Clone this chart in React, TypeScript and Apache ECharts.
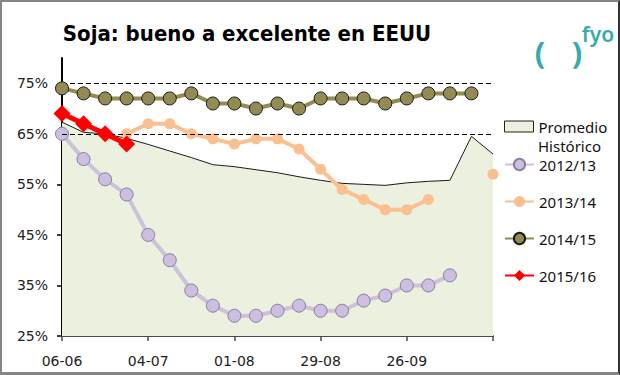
import React, { useEffect, useRef } from 'react';
import * as echarts from 'echarts';

const categories = ['06-06','13-06','20-06','27-06','04-07','11-07','18-07','25-07','01-08','08-08','15-08','22-08','29-08','05-09','12-09','19-09','26-09','03-10','10-10','17-10','24-10'];
const tickLabels = ['06-06','04-07','01-08','29-08','26-09'];
const yTicks = [25, 35, 45, 55, 65, 75];
const refLines = [65, 75];

const promedio = [67.3, 65.3, 65.0, 64.1, 62.9, 61.6, 60.3, 58.9, 58.5, 57.9, 57.3, 56.5, 55.8, 55.2, 55.0, 54.8, 55.3, 55.6, 55.8, 64.5, 61.0];
const s2012 = [65, 60, 56, 53, 45, 40, 34, 31, 29, 29, 30, 31, 30, 30, 32, 33, 35, 35, 37, null, null];
const s2013 = [null, null, null, 65, 67, 67, 65, 64, 63, 64, 64, 62, 58, 54, 52, 50, 50, 52, null, null, 57];
const s2014 = [74, 73, 72, 72, 72, 72, 73, 71, 71, 70, 71, 70, 72, 72, 72, 71, 72, 73, 73, 73, null];
const s2015 = [69, 67, 65, 63, null, null, null, null, null, null, null, null, null, null, null, null, null, null, null, null, null];

const AXIS_FONT = '"DejaVu Sans", Verdana, sans-serif';
const LEGEND_FONT = '"Noto Sans", "Open Sans", sans-serif';
const TEAL = '#38A9AE';

export default function App() {
  const ref = useRef<HTMLDivElement>(null);
  useEffect(() => {
    const chart = echarts.init(ref.current!, null, { renderer: 'svg' });
    chart.setOption({
      animation: false,
      backgroundColor: '#ffffff',
      grid: { left: 62, right: 127, top: 58, bottom: 39, containLabel: false },
      xAxis: {
        type: 'category',
        data: categories,
        boundaryGap: false,
        axisLine: { show: true, lineStyle: { color: '#4a4a4a', width: 2 } },
        axisTick: { show: true, interval: 3, length: 5, lineStyle: { color: '#4a4a4a', width: 1.5 } },
        axisLabel: {
          interval: (i: number, v: string) => tickLabels.includes(v),
          margin: 18,
          fontFamily: AXIS_FONT,
          fontSize: 14,
          color: '#222',
        },
        splitLine: { show: false },
      },
      yAxis: {
        type: 'value',
        min: 25,
        max: 80,
        interval: 10,
        axisLine: { show: true, lineStyle: { color: '#000', width: 2 } },
        axisTick: { show: true, length: 5, customValues: yTicks, lineStyle: { color: '#000', width: 1.5 } },
        axisLabel: {
          customValues: yTicks,
          formatter: '{value}%',
          margin: 14,
          fontFamily: AXIS_FONT,
          fontSize: 14,
          color: '#222',
        },
        splitLine: { show: false },
      },
      legend: [
        {
          orient: 'vertical',
          left: 499,
          top: 114,
          itemWidth: 29,
          itemHeight: 11,
          itemGap: 0,
          selectedMode: false,
          formatter: () => 'Promedio',
          textStyle: { fontFamily: LEGEND_FONT, fontSize: 15, color: '#111', lineHeight: 15 },
          data: [
            {
              name: 'Promedio Histórico',
              icon: 'rect',
              itemStyle: { color: '#EBF0DF', borderColor: '#222', borderWidth: 1 },
            },
          ],
        },
        {
          orient: 'vertical',
          left: 499,
          top: 152,
          itemWidth: 29,
          itemHeight: 14,
          itemGap: 22,
          selectedMode: false,
          textStyle: { fontFamily: LEGEND_FONT, fontSize: 15, color: '#111', lineHeight: 15 },
          data: ['2012/13', '2013/14', '2014/15', '2015/16'],
        },
      ],
      graphic: [
        {
          type: 'text',
          style: {
            text: 'Soja: bueno a excelente en EEUU',
            x: 247,
            y: 33,
            textAlign: 'center',
            textVerticalAlign: 'middle',
            fontFamily: '"DejaVu Sans Condensed", "DejaVu Sans", Verdana, sans-serif',
            fontWeight: 'bold',
            fontSize: 22,
            fill: '#000',
          },
        },
        {
          type: 'text',
          style: {
            text: 'Histórico',
            x: 538,
            y: 146,
            textVerticalAlign: 'middle',
            fontFamily: LEGEND_FONT,
            fontSize: 15,
            lineHeight: 14,
            fill: '#111',
          },
        },
        {
          type: 'text',
          style: { text: '(', x: 540, y: 52, textAlign: 'center', textVerticalAlign: 'middle', fontFamily: LEGEND_FONT, fontWeight: 'bold', fontSize: 31, fill: TEAL },
        },
        {
          type: 'text',
          style: { text: ')', x: 577, y: 52, textAlign: 'center', textVerticalAlign: 'middle', fontFamily: LEGEND_FONT, fontWeight: 'bold', fontSize: 31, fill: TEAL },
        },
        {
          type: 'text',
          style: { text: 'fyo', x: 598, y: 34, textAlign: 'center', textVerticalAlign: 'middle', fontFamily: LEGEND_FONT, fontWeight: 600, fontSize: 21, fill: TEAL },
        },
      ],
      series: [
        {
          name: 'Promedio Histórico',
          type: 'line',
          data: promedio,
          symbol: 'none',
          lineStyle: { color: '#1a1a1a', width: 1 },
          itemStyle: { color: '#EBF0DF' },
          areaStyle: { color: '#EBF0DF', opacity: 1 },
          z: 1,
          markLine: {
            silent: true,
            symbol: 'none',
            label: { show: false },
            lineStyle: { color: '#000', type: [5, 3], width: 1.2 },
            data: refLines.map((v) => ({ yAxis: v })),
          },
        },
        {
          name: '2012/13',
          type: 'line',
          data: s2012,
          symbol: 'circle',
          symbolSize: 13,
          showAllSymbol: true,
          lineStyle: { color: '#CCC3DA', width: 4 },
          itemStyle: { color: '#CDBFE0', borderColor: '#8A7CA2', borderWidth: 1 },
          z: 3,
        },
        {
          name: '2013/14',
          type: 'line',
          data: s2013,
          symbol: 'circle',
          symbolSize: 11,
          showAllSymbol: true,
          lineStyle: { color: '#FAC090', width: 4 },
          itemStyle: { color: '#FAC090', borderWidth: 0 },
          z: 4,
        },
        {
          name: '2014/15',
          type: 'line',
          data: s2014,
          symbol: 'circle',
          symbolSize: 13,
          showAllSymbol: true,
          lineStyle: { color: '#948A54', width: 4 },
          itemStyle: { color: '#948A54', borderColor: '#1a1a1a', borderWidth: 1 },
          z: 5,
        },
        {
          name: '2015/16',
          type: 'line',
          data: s2015,
          symbol: 'diamond',
          symbolSize: 17,
          showAllSymbol: true,
          lineStyle: { color: '#FF0000', width: 5 },
          itemStyle: { color: '#FF0000' },
          z: 6,
        },
      ],
    });
    return () => chart.dispose();
  }, []);
  return (
    <div style={{ position: 'fixed', left: 0, top: 0, width: 620, height: 375, background: '#fff' }}>
      <div ref={ref} style={{ width: 620, height: 375 }} />
      <div
        style={{
          position: 'absolute',
          left: 0,
          top: 0,
          width: 620,
          height: 375,
          boxSizing: 'border-box',
          borderTop: '2px solid #858585',
          borderLeft: '2px solid #858585',
          borderBottom: '3px solid #858585',
          borderRight: '2px solid #333',
          pointerEvents: 'none',
        }}
      />
    </div>
  );
}
